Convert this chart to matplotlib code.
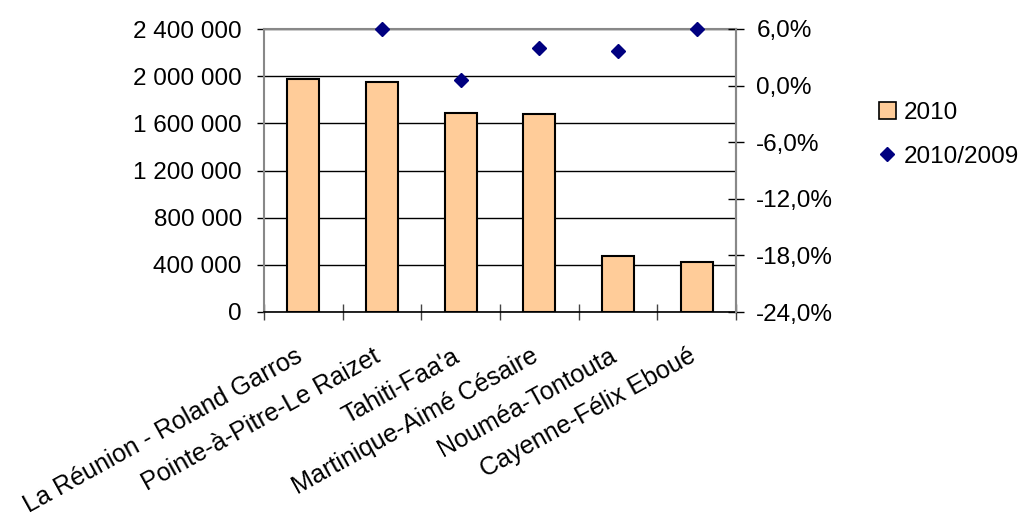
import matplotlib
matplotlib.use("Agg")
import matplotlib.pyplot as plt
import matplotlib.transforms as mtransforms
import numpy as np
from matplotlib.ticker import FuncFormatter, FixedLocator
from matplotlib.lines import Line2D
from matplotlib.patches import Patch

plt.rcParams['font.family'] = ['Liberation Sans', 'DejaVu Sans']

categories = ["La Réunion - Roland Garros", "Pointe-à-Pitre-Le Raizet", "Tahiti-Faa'a",
              "Martinique-Aimé Césaire", "Nouméa-Tontouta", "Cayenne-Félix Eboué"]
passengers_2010 = [1978000, 1948000, 1690000, 1676000, 475000, 421000]
change_2010_2009 = [np.nan, 6.0, 0.6, 3.95, 3.7, 6.0]
left_ticks = [0, 400000, 800000, 1200000, 1600000, 2000000, 2400000]
right_ticks = [-24.0, -18.0, -12.0, -6.0, 0.0, 6.0]

FS = 17.5
fig = plt.figure(figsize=(10.26, 5.17), dpi=100)
ax = fig.add_axes([264/1026, 1-312/517, (736-264)/1026, (312-29)/517])
x = np.arange(len(categories))
ax.bar(x, passengers_2010, width=0.41, color='#FFCC99', edgecolor='black', linewidth=1.5, zorder=3)
ax.set_xlim(-0.5, len(categories)-0.5)
ax.set_ylim(0, 2400000)
ax.set_yticks(left_ticks)
ax.yaxis.set_major_formatter(FuncFormatter(lambda v, p: f"{int(v):,}".replace(",", " ")))
ax.grid(axis='y', color='black', linewidth=1.0, zorder=1)
ax.set_xticks(x)
ax.set_xticklabels(categories, rotation=29, ha='right', va='top', rotation_mode='anchor', fontsize=18.1)
ax.tick_params(axis='x', length=0, pad=23)
offset = mtransforms.ScaledTranslation(-9/100, 0, fig.dpi_scale_trans)
for lab in ax.get_xticklabels():
    lab.set_transform(lab.get_transform() + offset)
ax.xaxis.set_minor_locator(FixedLocator(np.arange(-0.5, len(categories), 1.0)))
ax.tick_params(axis='x', which='minor', direction='inout', length=11.5, width=1, color='#444444')
ax.tick_params(axis='y', labelsize=FS, direction='out', length=5, width=1, color='black', pad=11)
for s in ['left', 'right', 'top']:
    ax.spines[s].set_color('#888888')
    ax.spines[s].set_linewidth(1.5)
ax.spines['bottom'].set_color('black')
ax.spines['bottom'].set_linewidth(1.2)

ax2 = ax.twinx()
ax2.set_ylim(-24, 6)
ax2.set_yticks(right_ticks)
ax2.yaxis.set_major_formatter(FuncFormatter(lambda v, p: f"{v:.1f}%".replace(".", ",")))
ax2.tick_params(axis='y', labelsize=FS, direction='inout', length=12, width=1, color='black', pad=8.6)
ax2.plot(x, change_2010_2009, linestyle='none', marker='D', markersize=7.5,
         color='#000080', clip_on=False, zorder=5)
for s in ['left', 'right', 'top', 'bottom']:
    ax2.spines[s].set_visible(False)
ax2.spines['right'].set_visible(True)
ax2.spines['right'].set_color('#888888')
ax2.spines['right'].set_linewidth(1.5)

handles = [Patch(facecolor='#FFCC99', edgecolor='black', linewidth=1.2, label='2010'),
           Line2D([], [], linestyle='none', marker='D', markersize=7, color='#000080', label='2010/2009')]
fig.legend(handles=handles, loc='upper left', bbox_to_anchor=(869/1026, 1-92/517),
           frameon=False, fontsize=FS, handlelength=0.7, handleheight=0.7, handletextpad=0.35,
           labelspacing=0.9, borderaxespad=0)

fig.savefig('out.png', dpi=100)
